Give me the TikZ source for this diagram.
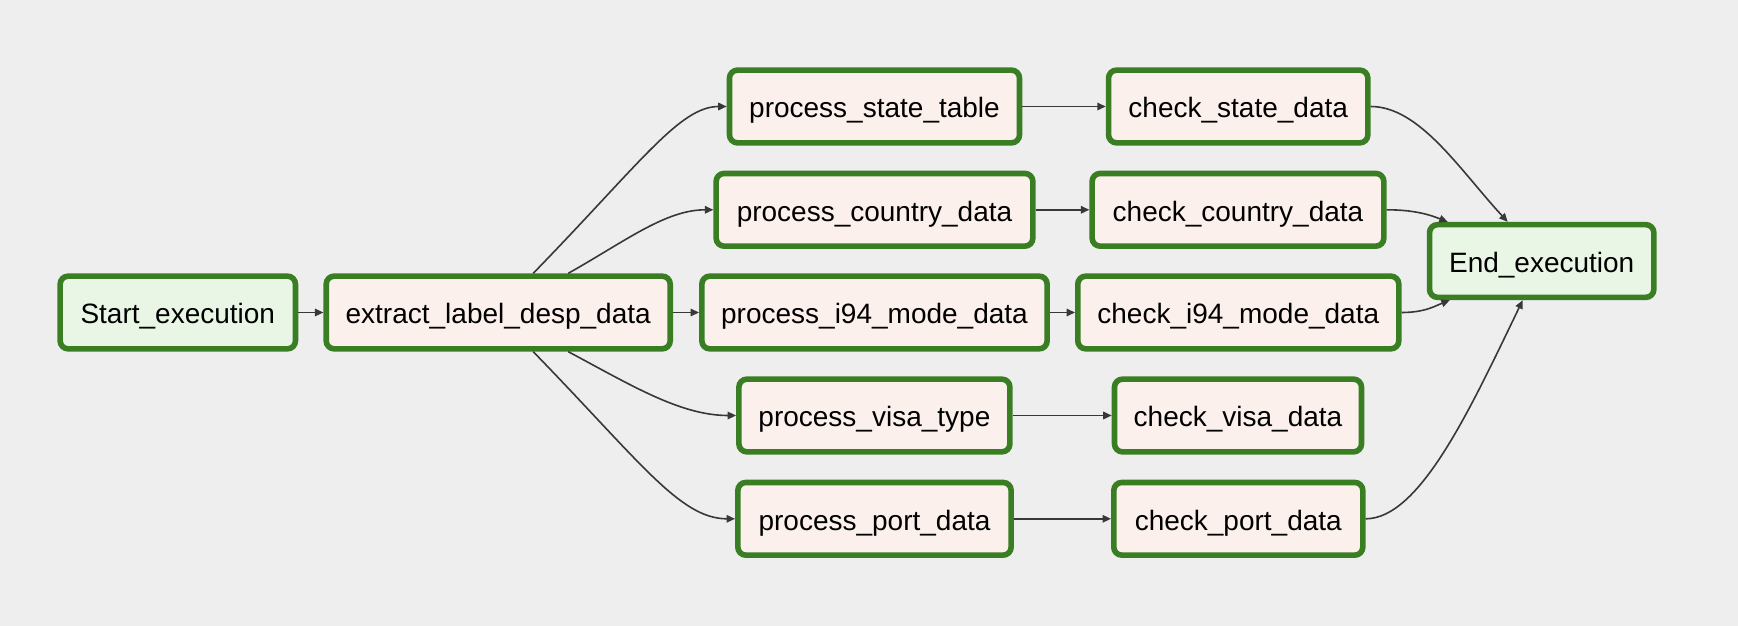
\documentclass[tikz,border=0pt]{standalone}
\usepackage{fontspec}
\setmainfont{Liberation Sans}
\usetikzlibrary{arrows.meta,calc}
\definecolor{bgc}{HTML}{EEEEEE}
\definecolor{okgreen}{RGB}{58,126,35}
\definecolor{pyfill}{HTML}{FCF0EC}
\definecolor{dumfill}{HTML}{E9F6E5}
\definecolor{edgec}{HTML}{383838}
\tikzset{
  taskbox/.style={draw=okgreen, line width=5.6pt, rounded corners=8pt,
    fill=pyfill, minimum height=72.7pt, inner sep=0pt,
    font=\fontsize{28}{34}\selectfont, text height=22.4pt, text depth=0pt},
  dumbox/.style={taskbox, fill=dumfill},
  flow/.style={draw=edgec, line width=1.6pt, -{Triangle[length=8.5pt,width=7.5pt]}}
}
\begin{document}
\begin{tikzpicture}[x=1pt,y=-1pt]
\useasboundingbox (0,0) rectangle (1738,626);
\fill[bgc] (0,0) rectangle (1738,626);

\node[dumbox, minimum width=235.3pt] (start) at (177.8,312.5) {Start\_execution};
\node[taskbox, minimum width=344pt] (ext) at (498.2,312.5) {extract\_label\_desp\_data};

\node[taskbox, minimum width=290pt] (pstate) at (874.5,106.5) {process\_state\_table};
\node[taskbox, minimum width=316.7pt] (pcountry) at (874.5,209.8) {process\_country\_data};
\node[taskbox, minimum width=345.3pt] (pi94) at (874.5,312.5) {process\_i94\_mode\_data};
\node[taskbox, minimum width=271pt] (pvisa) at (874.4,415.5) {process\_visa\_type};
\node[taskbox, minimum width=273.3pt] (pport) at (874.5,518.8) {process\_port\_data};

\node[taskbox, minimum width=259.3pt] (cstate) at (1238.2,106.5) {check\_state\_data};
\node[taskbox, minimum width=291.7pt] (ccountry) at (1238,209.8) {check\_country\_data};
\node[taskbox, minimum width=321pt] (ci94) at (1238.3,312.5) {check\_i94\_mode\_data};
\node[taskbox, minimum width=247pt] (cvisa) at (1238,415.5) {check\_visa\_data};
\node[taskbox, minimum width=249pt] (cport) at (1238.3,518.8) {check\_port\_data};

\node[dumbox, minimum width=224.3pt] (endx) at (1541.7,261) {End\_execution};

\draw[flow] (start) -- (ext);
\draw[flow] (ext) -- (pi94);
\draw[flow] ($(ext.north)+(35,0)$) .. controls +(107,-110) and +(-47,0) .. (pstate.west);
\draw[flow] ($(ext.north)+(70,0)$) .. controls +(57,-32) and +(-48,0) .. (pcountry.west);
\draw[flow] ($(ext.south)+(70,0)$) .. controls +(62,33) and +(-56,0) .. (pvisa.west);
\draw[flow] ($(ext.south)+(35,0)$) .. controls +(107,110) and +(-55,0) .. (pport.west);

\draw[flow] (pstate) -- (cstate);
\draw[flow] (pcountry) -- (ccountry);
\draw[flow] (pi94) -- (ci94);
\draw[flow] (pvisa) -- (cvisa);
\draw[flow] (pport) -- (cport);

\draw[flow] (cstate.east) .. controls +(49,0) and +(-48,-52) .. ($(endx.north)+(-34,0)$);
\draw[flow] (ccountry.east) .. controls +(28,0) and +(-18,-7) .. ($(endx.north west)+(21,0)$);
\draw[flow] (ci94.east) .. controls +(23,0) and +(-15,6) .. ($(endx.south west)+(23,0)$);
\draw[flow] (cport.east) .. controls +(54,0) and +(-53,110) .. ($(endx.south)+(-19,0)$);
\end{tikzpicture}
\end{document}
